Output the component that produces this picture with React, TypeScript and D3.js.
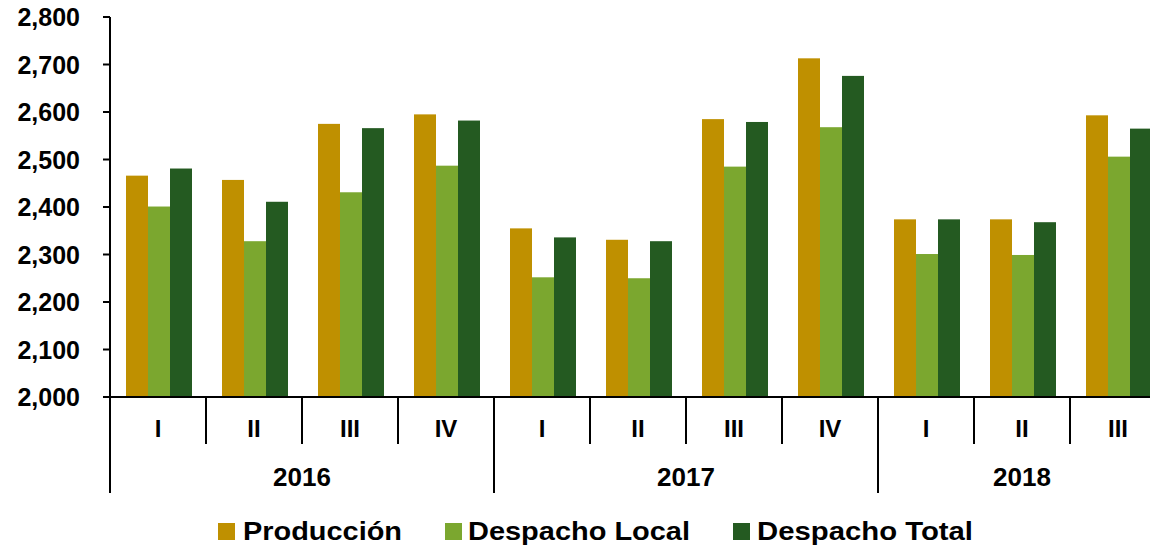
import React from 'react';
import * as d3 from 'd3';

const years = ['2016', '2017', '2018'];
const quarters = ['I', 'II', 'III', 'IV', 'I', 'II', 'III', 'IV', 'I', 'II', 'III'];
const quarterYear = [0, 0, 0, 0, 1, 1, 1, 1, 2, 2, 2];
const series = ['Producción', 'Despacho Local', 'Despacho Total'];
const colors = ['#BF9000', '#7BA72F', '#245A21'];

const produccion = [2466, 2457, 2575, 2595, 2355, 2331, 2585, 2713, 2374, 2374, 2593];
const despachoLocal = [2401, 2328, 2431, 2487, 2252, 2250, 2485, 2568, 2301, 2299, 2506];
const despachoTotal = [2481, 2411, 2566, 2582, 2336, 2328, 2579, 2676, 2374, 2368, 2565];
const values = [produccion, despachoLocal, despachoTotal];

const yTicks = [2000, 2100, 2200, 2300, 2400, 2500, 2600, 2700, 2800];

// legend boxes: square x, text x, text width
const legendPos = [
  { sq: 218, tx: 243, tw: 159 },
  { sq: 445, tx: 468, tw: 222 },
  { sq: 733, tx: 757, tw: 216 },
];

const font = '"Liberation Sans", Arial, sans-serif';

export default function App() {
  const W = 1150;
  const H = 547;
  const left = 110;
  const right = 1166;
  const top = 17;
  const bottom = 397;

  const x = d3.scaleBand<number>()
    .domain(quarters.map((_, i) => i))
    .range([left, right])
    .padding(0);
  const bw = x.bandwidth();

  const xs = d3.scaleBand<string>()
    .domain(series)
    .range([16, bw - 14])
    .padding(0);

  const y = d3.scaleLinear()
    .domain([2000, 2800])
    .range([bottom, top]);

  const fmt = d3.format(',');

  // year boundaries
  const yearStart = years.map((_, yi) => x(quarterYear.indexOf(yi))!);
  const yearEnd = years.map((_, yi) => {
    const last = quarterYear.lastIndexOf(yi);
    return x(last)! + bw;
  });

  return (
    <div style={{ position: 'fixed', left: 0, top: 0, width: W, height: H, overflow: 'hidden', background: '#fff' }}>
      <svg width={W} height={H} style={{ display: 'block' }}>
        {/* bars */}
        {values.map((vals, si) => (
          <g key={series[si]} fill={colors[si]}>
            {vals.map((v, i) => (
              <rect
                key={i}
                x={x(i)! + xs(series[si])!}
                y={y(v)}
                width={xs.bandwidth()}
                height={bottom - y(v)}
              />
            ))}
          </g>
        ))}

        {/* y axis */}
        <line x1={left} x2={left} y1={top} y2={493} stroke="#000" strokeWidth={2} />
        {yTicks.map((t) => (
          <g key={t}>
            <line x1={left - 7} x2={left} y1={y(t)} y2={y(t)} stroke="#000" strokeWidth={2} />
            <text
              x={80}
              y={y(t) + 9}
              textAnchor="end"
              fontFamily={font}
              fontWeight="bold"
              fontSize={25}
              fill="#000"
            >
              {fmt(t)}
            </text>
          </g>
        ))}

        {/* x axis */}
        <line x1={left - 7} x2={W} y1={bottom} y2={bottom} stroke="#000" strokeWidth={2} />
        {quarters.map((q, i) => (
          <g key={i}>
            {i > 0 && quarterYear[i] === quarterYear[i - 1] && (
              <line x1={x(i)!} x2={x(i)!} y1={bottom} y2={444} stroke="#000" strokeWidth={2} />
            )}
            <text
              x={x(i)! + bw / 2}
              y={437}
              textAnchor="middle"
              fontFamily={font}
              fontWeight="bold"
              fontSize={24}
              fill="#000"
            >
              {q}
            </text>
          </g>
        ))}
        {years.map((yr, yi) => (
          <g key={yr}>
            {yi > 0 && (
              <line x1={yearStart[yi]} x2={yearStart[yi]} y1={bottom} y2={493} stroke="#000" strokeWidth={2} />
            )}
            <text
              x={(yearStart[yi] + yearEnd[yi]) / 2}
              y={486}
              textAnchor="middle"
              fontFamily={font}
              fontWeight="bold"
              fontSize={26}
              fill="#000"
            >
              {yr}
            </text>
          </g>
        ))}

        {/* legend */}
        {series.map((s, si) => (
          <g key={s}>
            <rect x={legendPos[si].sq} y={523} width={17} height={17} fill={colors[si]} />
            <text
              x={legendPos[si].tx}
              y={540}
              fontFamily={font}
              fontWeight="bold"
              fontSize={25}
              textLength={legendPos[si].tw}
              lengthAdjust="spacingAndGlyphs"
              fill="#000"
            >
              {s}
            </text>
          </g>
        ))}
      </svg>
    </div>
  );
}
